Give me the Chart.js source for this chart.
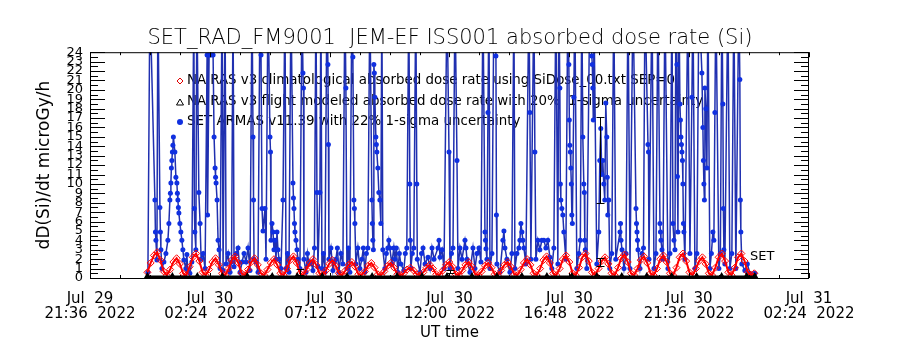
<!DOCTYPE html>
<html>
<head>
<meta charset="utf-8">
<script src="https://cdn.jsdelivr.net/npm/chart.js@4"></script>
<style>
  body { margin: 0; background: #fff; }
  #wrap { width: 900px; height: 350px; }
</style>
</head>
<body>
<div id="wrap"><canvas id="plot-data" width="900" height="350"></canvas></div>
<script>
// hours since Jul 29 21:36 UT
const xTickValues = [0, 4.8, 9.6, 14.4, 19.2, 24.0, 28.8];
const xTickLabels = [
    ['Jul  29', '21:36  2022'],
    ['Jul  30', '02:24  2022'],
    ['Jul  30', '07:12  2022'],
    ['Jul  30', '12:00  2022'],
    ['Jul  30', '16:48  2022'],
    ['Jul  30', '21:36  2022'],
    ['Jul  31', '02:24  2022']
];

// SET ARMAS measured dose rate (microGy/h), values above 24 run off the top
const setTime = [
    2.32, 2.40, 2.60, 2.62, 2.64, 2.68, 2.72, 2.80, 2.82, 2.84,
    2.88, 2.96, 3.04, 3.12, 3.16, 3.20, 3.22, 3.24, 3.26, 3.28,
    3.30, 3.32, 3.34, 3.40, 3.44, 3.48, 3.50, 3.52, 3.54, 3.56,
    3.60, 3.64, 3.68, 3.72, 3.76, 3.84, 3.88, 3.92, 4.00, 4.08,
    4.16, 4.18, 4.20, 4.24, 4.28, 4.36, 4.41, 4.45, 4.53, 4.61,
    4.69, 4.71, 4.77, 4.85, 4.93, 4.97, 5.01, 5.03, 5.05, 5.09,
    5.13, 5.17, 5.21, 5.29, 5.33, 5.41, 5.45, 5.53, 5.61, 5.67,
    5.73, 5.77, 5.85, 5.93, 6.01, 6.09, 6.17, 6.25, 6.33, 6.41,
    6.49, 6.53, 6.55, 6.57, 6.65, 6.73, 6.81, 6.85, 6.89, 6.93,
    7.01, 7.05, 7.13, 7.21, 7.23, 7.25, 7.29, 7.33, 7.37, 7.41,
    7.45, 7.49, 7.53, 7.57, 7.65, 7.73, 7.81, 7.85, 7.91, 7.97,
    8.05, 8.13, 8.15, 8.17, 8.19, 8.21, 8.25, 8.29, 8.33, 8.41,
    8.49, 8.53, 8.55, 8.57, 8.65, 8.71, 8.77, 8.85, 8.93, 8.99,
    9.05, 9.09, 9.13, 9.21, 9.25, 9.29, 9.35, 9.41, 9.49, 9.53,
    9.55, 9.57, 9.65, 9.73, 9.79, 9.85, 9.91, 9.97, 10.05, 10.13,
    10.21, 10.25, 10.29, 10.35, 10.41, 10.49, 10.53, 10.57, 10.59, 10.61,
    10.65, 10.73, 10.81, 10.89, 10.95, 11.01, 11.07, 11.13, 11.21, 11.29,
    11.31, 11.33, 11.35, 11.37, 11.39, 11.41, 11.45, 11.47, 11.49, 11.53,
    11.57, 11.61, 11.65, 11.69, 11.73, 11.81, 11.87, 11.93, 11.97, 12.01,
    12.09, 12.17, 12.21, 12.27, 12.33, 12.39, 12.45, 12.57, 12.63, 12.69,
    12.77, 12.81, 12.83, 12.85, 12.91, 12.97, 13.05, 13.09, 13.11, 13.22,
    13.28, 13.34, 13.42, 13.54, 13.62, 13.70, 13.78, 13.94, 13.98, 14.02,
    14.10, 14.18, 14.30, 14.38, 14.42, 14.48, 14.54, 14.62, 14.70, 14.74,
    14.82, 14.90, 15.02, 15.06, 15.10, 15.22, 15.34, 15.42, 15.50, 15.58,
    15.66, 15.74, 15.82, 15.84, 15.86, 15.90, 15.94, 15.98, 16.02, 16.10,
    16.18, 16.26, 16.28, 16.30, 16.42, 16.54, 16.58, 16.62, 16.70, 16.82,
    16.90, 16.98, 17.02, 17.10, 17.18, 17.22, 17.26, 17.30, 17.34, 17.38,
    17.46, 17.58, 17.62, 17.66, 17.78, 17.82, 17.86, 17.94, 18.02, 18.10,
    18.18, 18.26, 18.34, 18.42, 18.50, 18.58, 18.66, 18.74, 18.78, 18.82,
    18.84, 18.86, 18.90, 18.94, 18.98, 19.06, 19.14, 19.18, 19.20, 19.22,
    19.24, 19.26, 19.28, 19.30, 19.32, 19.38, 19.42, 19.50, 19.58, 19.64,
    19.70, 19.74, 19.78, 19.80, 19.82, 19.84, 19.90, 20.02, 20.10, 20.12,
    20.14, 20.16, 20.18, 20.30, 20.38, 20.42, 20.46, 20.50, 20.54, 20.58,
    20.62, 20.66, 20.70, 20.72, 20.74, 20.78, 20.82, 20.90, 20.98, 21.06,
    21.23, 21.25, 21.27, 21.31, 21.39, 21.47, 21.55, 21.63, 21.75, 21.87,
    21.89, 21.91, 21.93, 21.95, 22.03, 22.11, 22.17, 22.23, 22.35, 22.37,
    22.39, 22.51, 22.59, 22.67, 22.75, 22.83, 22.85, 22.87, 22.91, 22.95,
    23.03, 23.15, 23.23, 23.31, 23.35, 23.39, 23.43, 23.47, 23.51, 23.53,
    23.55, 23.59, 23.63, 23.65, 23.67, 23.69, 23.71, 23.73, 23.75, 23.77,
    23.79, 23.83, 23.95, 24.03, 24.11, 24.15, 24.23, 24.31, 24.39, 24.51,
    24.55, 24.57, 24.59, 24.61, 24.63, 24.67, 24.71, 24.75, 24.83, 24.89,
    24.95, 24.99, 25.03, 25.07, 25.19, 25.25, 25.31, 25.35, 25.37, 25.39,
    25.43, 25.55, 25.63, 25.71, 25.79, 25.87, 25.99, 26.03, 26.05, 26.07,
    26.11, 26.23, 26.33, 26.43, 26.63
];
const setDose = [
    0.6, 30, 8.3, 4.9, 4.0, 1.9, 30, 7.5, 4.9, 3.0,
    1.0, 1.7, 2.6, 4.0, 5.8, 8.3, 9.0, 10.1, 11.7, 12.5,
    13.4, 14.1, 15.0, 13.4, 10.7, 10.1, 9.0, 8.3, 7.5, 6.9,
    5.8, 4.9, 4.0, 3.0, 1.9, 1.0, 2.5, 0.7, 0.5, 1.7,
    30, 7.4, 4.9, 3.0, 30, 9.1, 5.8, 2.0, 2.6, 1.0,
    23.7, 6.7, 23.7, 23.7, 23.7, 15.0, 11.7, 10.7, 10.1, 8.3,
    4.0, 3.0, 1.0, 30, 0.8, 30, 1.5, 2.6, 0.6, 1.7,
    30, 1.2, 2.6, 3.2, 0.6, 1.7, 2.6, 1.7, 3.2, 0.8,
    30, 15.0, 8.3, 2.0, 1.7, 0.6, 30, 23.7, 7.4, 5.0,
    7.4, 2.0, 30, 15.0, 13.4, 4.0, 5.8, 4.9, 3.0, 4.0,
    2.0, 4.9, 3.0, 2.0, 1.0, 8.3, 30, 1.0, 2.6, 0.6,
    30, 10.1, 8.5, 7.4, 5.8, 4.9, 4.0, 3.0, 2.0, 1.0,
    30, 21.8, 20.2, 2.0, 0.6, 2.6, 1.5, 1.7, 0.8, 3.2,
    30, 9.1, 1.2, 9.1, 30, 1.0, 2.6, 0.6, 30, 22.7,
    14.2, 2.0, 3.2, 0.8, 1.7, 2.0, 3.2, 0.6, 2.6, 1.5,
    30, 20.2, 1.0, 3.2, 0.6, 30, 23.5, 8.3, 7.4, 5.8,
    1.5, 3.2, 1.0, 2.0, 3.2, 0.6, 2.6, 3.2, 30, 8.3,
    5.8, 4.0, 3.0, 22.7, 21.8, 19.2, 15.0, 14.2, 13.4, 11.7,
    9.1, 8.3, 5.8, 30, 3.0, 1.0, 2.6, 3.2, 4.0, 3.2,
    1.5, 3.2, 2.0, 3.2, 0.6, 2.6, 1.5, 0.8, 2.6, 3.2,
    30, 10.0, 4.0, 1.0, 2.6, 3.2, 30, 10.0, 2.0, 0.6,
    2.6, 3.2, 1.5, 2.2, 1.0, 3.2, 2.0, 3.2, 4.0, 2.2,
    3.0, 1.0, 30, 13.4, 1.0, 2.6, 3.2, 30, 12.5, 1.0,
    3.2, 2.0, 4.0, 3.2, 2.0, 0.6, 3.2, 1.0, 2.6, 3.2,
    1.7, 30, 4.9, 4.0, 3.1, 2.0, 17.6, 30, 1.0, 2.6,
    30, 23.6, 6.7, 1.5, 0.6, 4.0, 5.0, 3.2, 2.0, 0.6,
    2.6, 30, 1.0, 2.6, 3.2, 4.0, 5.8, 4.9, 4.0, 3.2,
    1.5, 30, 17.6, 2.0, 30, 13.4, 2.0, 4.0, 3.0, 4.0,
    4.0, 3.2, 4.0, 2.2, 1.0, 3.2, 30, 1.5, 30, 20.2,
    10.0, 8.3, 7.4, 6.7, 4.9, 2.0, 30, 22.7, 16.8, 14.1,
    13.4, 11.7, 10.0, 6.7, 5.8, 19.2, 30, 1.0, 2.6, 4.0,
    30, 15.0, 10.0, 9.1, 4.0, 3.0, 1.0, 30, 23.6, 22.7,
    20.2, 16.8, 30, 1.5, 4.9, 12.5, 15.9, 11.0, 12.5, 10.0,
    8.3, 18.6, 15.0, 10.7, 6.7, 8.3, 1.0, 2.6, 30, 2.0,
    4.9, 5.8, 4.0, 3.0, 1.0, 2.6, 30, 1.0, 30, 7.4,
    5.8, 4.9, 4.0, 3.0, 1.0, 2.6, 3.2, 30, 14.2, 13.4,
    2.0, 30, 1.0, 2.6, 30, 5.8, 4.9, 4.0, 3.0, 2.0,
    30, 1.0, 2.6, 30, 5.8, 4.0, 3.0, 30, 22.7, 10.8,
    4.9, 30, 18.5, 16.8, 15.0, 14.2, 13.4, 12.5, 10.0, 5.8,
    4.9, 2.0, 30, 2.6, 19.2, 30, 1.0, 2.6, 30, 21.8,
    16.0, 12.5, 10.0, 8.3, 20.2, 18.0, 11.7, 30, 1.0, 2.6,
    4.9, 4.0, 17.6, 30, 1.0, 2.6, 30, 18.5, 7.4, 3.0,
    1.5, 30, 1.0, 2.6, 30, 1.0, 30, 21.1, 8.3, 4.9,
    1.5, 0.8, 1.5, 0.5, 0.5
];

// NAIRAS v3 climatological dose rate, sampled every 0.13 h from 2.30 h
const climStart = 2.30;
const climStep = 0.13;
const climDose = [
    0.6, 1.6, 2.4, 2.75, 1.9, 0.7,
    0.3, 0.9, 1.7, 2.1, 1.5, 0.5,
    0.3, 1.2, 2.2, 2.6, 1.8, 0.6,
    0.3, 0.9, 1.7, 2.1, 1.4, 0.5,
    0.3, 1.0, 1.9, 2.3, 1.6, 0.5,
    0.3, 0.9, 1.7, 2.1, 1.4, 0.5,
    0.3, 0.9, 1.6, 2.0, 1.4, 0.5,
    0.3, 1.0, 1.9, 2.3, 1.6, 0.5,
    0.3, 0.9, 1.6, 2.0, 1.4, 0.5,
    0.3, 0.8, 1.5, 1.9, 1.3, 0.5,
    0.3, 0.8, 1.4, 1.7, 1.2, 0.4,
    0.3, 0.7, 1.3, 1.6, 1.1, 0.4,
    0.3, 0.7, 1.3, 1.6, 1.1, 0.4,
    0.3, 0.5, 0.9, 1.1, 0.8, 0.4,
    0.3, 0.6, 1.1, 1.4, 1.0, 0.4,
    0.3, 0.8, 1.4, 1.7, 1.2, 0.4,
    0.3, 0.8, 1.4, 1.7, 1.2, 0.4,
    0.3, 0.7, 1.3, 1.6, 1.1, 0.4,
    0.3, 0.8, 1.4, 1.7, 1.2, 0.4,
    0.3, 0.9, 1.6, 2.0, 1.4, 0.5,
    0.3, 1.0, 1.9, 2.3, 1.6, 0.5,
    0.3, 1.0, 2.0, 2.4, 1.7, 0.5,
    0.3, 1.1, 2.2, 2.6, 1.8, 0.6,
    0.3, 1.0, 1.8, 2.2, 1.5, 0.5,
    0.3, 1.1, 2.1, 2.5, 1.7, 0.5,
    0.3, 1.0, 1.9, 2.3, 1.6, 0.5,
    0.3, 1.0, 2.0, 2.4, 1.7, 0.5,
    0.3, 1.1, 2.2, 2.6, 1.8, 0.6,
    0.3, 1.0, 1.8, 2.2, 1.5, 0.5,
    0.3, 1.1, 2.2, 2.6, 1.8, 0.6,
    0.3, 1.1, 2.2, 2.6, 1.8, 0.6,
    0.3, 0.5
];

// NAIRAS v3 flight modeled dose rate, hourly from 2.30 h
const flightTime = [2.30, 3.30, 4.30, 5.30, 6.30, 7.30, 8.30, 9.30, 10.30, 11.30, 12.30, 13.30, 14.30,
    15.30, 16.30, 17.30, 18.30, 19.30, 20.30, 21.30, 22.30, 23.30, 24.30, 25.30, 26.30, 26.63];
const flightDose = [0.1, 0.1, 0.1, 0.1, 0.1, 0.1, 0.1, 0.1, 0.1, 0.1, 0.1, 0.1, 0.1,
    0.1, 0.1, 0.1, 0.1, 0.1, 0.1, 0.1, 0.1, 0.1, 0.1, 0.1, 0.1, 0.1];

// black uncertainty bars seen on the plot
const errTime = [8.40, 14.40, 20.42, 20.42];
const errLow = [0.3, 0.5, 1.3, 8.0];
const errHigh = [1.0, 0.9, 2.1, 17.1];

const legendLabels = [
    'NAIRAS v3 climatological absorbed dose rate using SiDose_00.txt SEP=0',
    'NAIRAS v3 flight modeled absorbed dose rate with 20%  1-sigma uncertainty',
    'SET ARMAS v11.39 with 22% 1-sigma uncertainty'
];

const FONT = 'DejaVu Sans';

const setPoints = setTime.map((t, i) => ({x: t, y: setDose[i]}));
const climPoints = climDose.map((v, i) => ({x: climStart + i * climStep, y: v}));
const flightPoints = flightTime.map((t, i) => ({x: t, y: flightDose[i]}));

// box round the plot with inward ticks on all four sides
const framePlugin = {
    id: 'frame',
    afterDatasetsDraw(chart) {
        const {ctx, chartArea: a, scales: {x, y}} = chart;
        ctx.save();
        ctx.strokeStyle = '#000';
        ctx.lineWidth = 1;

        // error bars
        ctx.beginPath();
        errTime.forEach((t, i) => {
            const px = Math.round(x.getPixelForValue(t)) + 0.5;
            const y0 = Math.round(y.getPixelForValue(errLow[i])) + 0.5;
            const y1 = Math.round(y.getPixelForValue(errHigh[i])) + 0.5;
            ctx.moveTo(px, y0); ctx.lineTo(px, y1);
            ctx.moveTo(px - 4, y0); ctx.lineTo(px + 4, y0);
            ctx.moveTo(px - 4, y1); ctx.lineTo(px + 4, y1);
        });
        ctx.stroke();

        ctx.strokeRect(a.left + 0.5, a.top + 0.5, a.right - a.left - 1, a.bottom - a.top);
        ctx.beginPath();
        for (let v = 0; v <= 24; v += 0.5) {
            const py = Math.round(y.getPixelForValue(v)) + 0.5;
            const len = (v % 1 === 0) ? 15 : 8;
            ctx.moveTo(a.left, py); ctx.lineTo(a.left + len, py);
            ctx.moveTo(a.right, py); ctx.lineTo(a.right - len, py);
        }
        for (let v = 0; v <= 28.8 + 0.01; v += 1.2) {
            const px = Math.round(x.getPixelForValue(v)) + 0.5;
            const major = xTickValues.some(t => Math.abs(t - v) < 0.01);
            const len = major ? 5 : 3;
            ctx.moveTo(px, a.bottom); ctx.lineTo(px, a.bottom - len);
            ctx.moveTo(px, a.top); ctx.lineTo(px, a.top + len);
        }
        ctx.stroke();

        ctx.fillStyle = '#000';
        ctx.font = '13px "' + FONT + '"';
        ctx.textBaseline = 'middle';
        ctx.textAlign = 'left';
        ctx.fillText('SET', 750, 257);
        ctx.restore();
    },
    beforeDatasetsDraw(chart) {
        const {ctx} = chart;
        ctx.save();
        ctx.font = '13.4px "' + FONT + '"';
        ctx.textBaseline = 'middle';
        ctx.textAlign = 'left';
        ctx.fillStyle = '#000';
        const rows = [81, 102, 122];
        legendLabels.forEach((txt, i) => ctx.fillText(txt, 187, rows[i]));
        // symbols
        ctx.lineWidth = 1;
        ctx.strokeStyle = '#e00000';
        ctx.beginPath();
        ctx.moveTo(180, 78); ctx.lineTo(183, 81); ctx.lineTo(180, 84); ctx.lineTo(177, 81); ctx.closePath();
        ctx.stroke();
        ctx.strokeStyle = '#000';
        ctx.beginPath();
        ctx.moveTo(180, 99); ctx.lineTo(183.5, 105); ctx.lineTo(176.5, 105); ctx.closePath();
        ctx.stroke();
        ctx.fillStyle = '#1030e0';
        ctx.beginPath();
        ctx.arc(180, 122, 3, 0, Math.PI * 2);
        ctx.fill();
        ctx.restore();
    }
};

const ctx = document.getElementById('plot-data').getContext('2d');
const chart = new Chart(ctx, {
    type: 'line',
    data: {
        datasets: [{
            data: flightPoints,
            borderColor: '#000',
            borderWidth: 3,
            pointStyle: 'triangle',
            pointRadius: 2,
            pointBorderColor: '#000',
            pointBackgroundColor: 'rgba(0,0,0,0)',
            order: 1
        }, {
            data: climPoints,
            borderColor: '#ff0000',
            borderWidth: 2,
            pointStyle: 'rectRot',
            pointRadius: 3.5,
            pointBorderWidth: 1,
            pointBorderColor: '#ff0000',
            pointBackgroundColor: 'rgba(0,0,0,0)',
            order: 2
        }, {
            data: setPoints,
            borderColor: '#2030b0',
            borderWidth: 1.5,
            pointStyle: 'circle',
            pointRadius: 2.5,
            pointBorderWidth: 0,
            pointBackgroundColor: '#1030e0',
            order: 3
        }]
    },
    options: {
        responsive: false,
        animation: false,
        events: [],
        layout: {padding: 0},
        plugins: {
            legend: {display: false},
            tooltip: {enabled: false},
            title: {
                display: true,
                text: 'SET_RAD_FM9001  JEM-EF ISS001 absorbed dose rate (Si)',
                color: '#000',
                font: {family: FONT, size: 21, weight: 200, lineHeight: 1.2},
                padding: {top: 26, bottom: 1}
            }
        },
        scales: {
            x: {
                type: 'linear',
                min: 0,
                max: 28.8,
                afterBuildTicks: s => { s.ticks = xTickValues.map(v => ({value: v})); },
                afterFit: s => { s.height = 72; },
                grid: {display: false, drawTicks: false},
                border: {display: false},
                ticks: {
                    autoSkip: false,
                    maxRotation: 0,
                    color: '#000',
                    padding: 14,
                    font: {family: FONT, size: 15, lineHeight: 0.97},
                    callback: (v, i) => xTickLabels[i]
                },
                title: {
                    display: true,
                    text: 'UT time',
                    color: '#000',
                    font: {family: FONT, size: 15},
                    padding: {top: 0, bottom: 8}
                }
            },
            y: {
                min: 0,
                max: 24,
                afterFit: s => { s.width = 90; },
                grid: {display: false, drawTicks: false},
                border: {display: false},
                ticks: {
                    stepSize: 1,
                    autoSkip: false,
                    color: '#000',
                    padding: 7,
                    font: {family: FONT, size: 13}
                },
                title: {
                    display: true,
                    text: 'dD(Si)/dt microGy/h',
                    color: '#000',
                    font: {family: FONT, size: 17},
                    padding: {top: 34, bottom: 0}
                }
            },
            // empty right axis, only keeps the margin to the right of the plot
            yRight: {
                position: 'right',
                min: 0,
                max: 24,
                afterFit: s => { s.width = 91; },
                grid: {display: false, drawTicks: false},
                border: {display: false},
                ticks: {display: false}
            }
        }
    },
    plugins: [framePlugin]
});
</script>
</body>
</html>
